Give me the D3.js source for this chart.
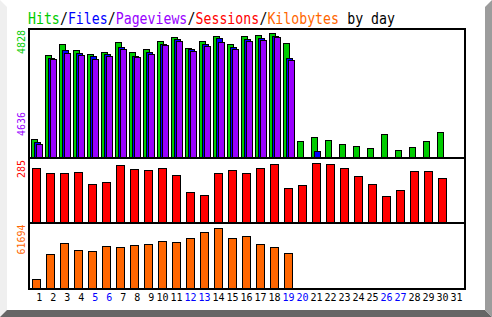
<!DOCTYPE html>
<html>
<head>
<meta charset="utf-8">
<script src="https://cdn.jsdelivr.net/npm/d3@7"></script>
<style>
  body { margin: 0; background: #fff; }
  svg { display: block; }
</style>
</head>
<body>
<svg width="492" height="317"></svg>
<script>
// data
var days = [1, 2, 3, 4, 5, 6, 7, 8, 9, 10, 11, 12, 13, 14, 15, 16,
            17, 18, 19, 20, 21, 22, 23, 24, 25, 26, 27, 28, 29, 30, 31];
var weekendDays = [5, 6, 12, 13, 19, 20, 26, 27];

var hits = [690, 3946, 4368, 4138, 3985, 4062, 4445, 4062, 4177, 4483, 4636, 4215, 4483, 4675, 4368, 4675,
            4713, 4828, 4406, 613, 766, 651, 498, 421, 345, 881, 268, 383, 613, 958, 0];
var files = [586, 3830, 4136, 4022, 3907, 3983, 4251, 3907, 4060, 4366, 4558, 4175, 4366, 4596, 4251, 4558,
             4596, 4711, 3830, 0, 230, 0, 0, 0, 0, 0, 0, 0, 0, 0, 0];
var pageviews = [498, 3792, 4022, 3945, 3792, 3907, 4175, 3868, 3983, 4328, 4481, 4098, 4290, 4443, 4175, 4481,
                 4519, 4636, 3753, 0, 0, 0, 0, 0, 0, 0, 0, 0, 0, 0, 0];
var sessions = [257, 233, 233, 238, 181, 190, 271, 252, 247, 257, 223, 143, 128, 233, 247, 233,
                261, 276, 162, 176, 285, 276, 257, 219, 181, 124, 152, 242, 242, 209, 0];
var kilobytes = [9100, 34380, 45500, 38420, 37410, 42470, 41460, 43480, 44490, 47520, 46510, 50560, 56620, 61694, 50560, 52580,
                 44490, 41460, 35390, 0, 0, 0, 0, 0, 0, 0, 0, 0, 0, 0, 0];

var titleParts = [
  {text: "Hits", color: "#00cc00"}, {text: "/", color: "#000"},
  {text: "Files", color: "#0000ff"}, {text: "/", color: "#000"},
  {text: "Pageviews", color: "#9900ff"}, {text: "/", color: "#000"},
  {text: "Sessions", color: "#ff0000"}, {text: "/", color: "#000"},
  {text: "Kilobytes", color: "#ff6600"}, {text: " ", color: "#000"},
  {text: "by day", color: "#000"}
];

var svg = d3.select("svg"),
    mono = "'DejaVu Sans Mono', monospace";

// bevelled frame
svg.append("polygon").attr("points", "0,0 7,7 7,310 0,317").attr("fill", "#efefef");
svg.append("polygon").attr("points", "0,317 7,310 485,310 492,317").attr("fill", "#666666");
svg.append("polygon").attr("points", "485,7 492,0 492,317 485,310").attr("fill", "#9c9c9c");

// title, one text per coloured word, fixed-pitch cells, stretched a bit in height
var charW = 7.98, pos = 0;
titleParts.forEach(function(p) { p.start = pos; pos += p.text.length; });

svg.append("g")
    .attr("font-family", mono)
    .attr("font-size", 13.2)
  .selectAll("text")
  .data(titleParts.filter(function(p) { return p.text.trim() !== ""; }))
  .enter().append("text")
    .attr("transform", function(d) { return "translate(" + (28 + d.start * charW) + ",24) scale(1,1.25)"; })
    .attr("fill", function(d) { return d.color; })
    .text(function(d) { return d.text; });

var x = d3.scaleBand()
    .domain(days)
    .range([30, 464]);

var panels = [
  {top: 29, base: 157},
  {top: 158, base: 222},
  {top: 223, base: 288}
];

var y1 = d3.scaleLinear().domain([0, 4828]).range([panels[0].base, panels[0].top + 3.5]),
    y2 = d3.scaleLinear().domain([0, 285]).range([panels[1].base, panels[1].top + 4.5]),
    y3 = d3.scaleLinear().domain([0, 61694]).range([panels[2].base, panels[2].top + 4.5]);

function drawBars(values, y, base, dx, w, color) {
  var g = svg.append("g")
      .attr("fill", color)
      .attr("stroke", "#000")
      .attr("stroke-width", 1);

  g.selectAll("rect")
    .data(days.filter(function(d, i) { return values[i] > 0; }))
    .enter().append("rect")
      .attr("x", function(d) { return x(d) + dx + 0.5; })
      .attr("y", function(d) { return Math.round(y(values[d - 1])) + 0.5; })
      .attr("width", w)
      .attr("height", function(d) { return base - Math.round(y(values[d - 1])); });
}

drawBars(hits, y1, panels[0].base, 1, 6, "#00cc00");
drawBars(files, y1, panels[0].base, 4, 6, "#0000ff");
drawBars(pageviews, y1, panels[0].base, 6, 6, "#9900ff");
drawBars(sessions, y2, panels[1].base, 2, 8, "#ff0000");
drawBars(kilobytes, y3, panels[2].base, 2, 8, "#ff6600");

// frame and dividers
svg.append("rect")
    .attr("x", 29).attr("y", 29)
    .attr("width", 436).attr("height", 260)
    .attr("fill", "none")
    .attr("stroke", "#000")
    .attr("stroke-width", 2);

svg.selectAll(".divider")
  .data([158, 223])
  .enter().append("line")
    .attr("class", "divider")
    .attr("x1", 28).attr("x2", 466)
    .attr("y1", function(d) { return d; })
    .attr("y2", function(d) { return d; })
    .attr("stroke", "#000")
    .attr("stroke-width", 2);

// max labels, vertical
var maxLabels = [
  {text: "4828", color: "#00cc00", y: 30},
  {text: "4636", color: "#9900ff", y: 112},
  {text: "285", color: "#ff0000", y: 160},
  {text: "61694", color: "#ff6600", y: 224.5}
];

svg.selectAll(".maxlabel")
  .data(maxLabels)
  .enter().append("text")
    .attr("class", "maxlabel")
    .attr("transform", function(d) { return "translate(25," + d.y + ") rotate(-90)"; })
    .attr("text-anchor", "end")
    .attr("font-family", mono)
    .attr("font-size", 10)
    .attr("fill", function(d) { return d.color; })
    .text(function(d) { return d.text; });

// day axis
svg.append("g")
    .attr("font-family", mono)
    .attr("font-size", 10)
    .attr("text-anchor", "middle")
  .selectAll("text")
  .data(days)
  .enter().append("text")
    .attr("x", function(d) { return x(d) + x.bandwidth() / 2 + (d < 10 ? 2.3 : -0.5); })
    .attr("y", 301)
    .attr("fill", function(d) { return weekendDays.indexOf(d) >= 0 ? "#0000ff" : "#000"; })
    .text(function(d) { return d; });
</script>
</body>
</html>
